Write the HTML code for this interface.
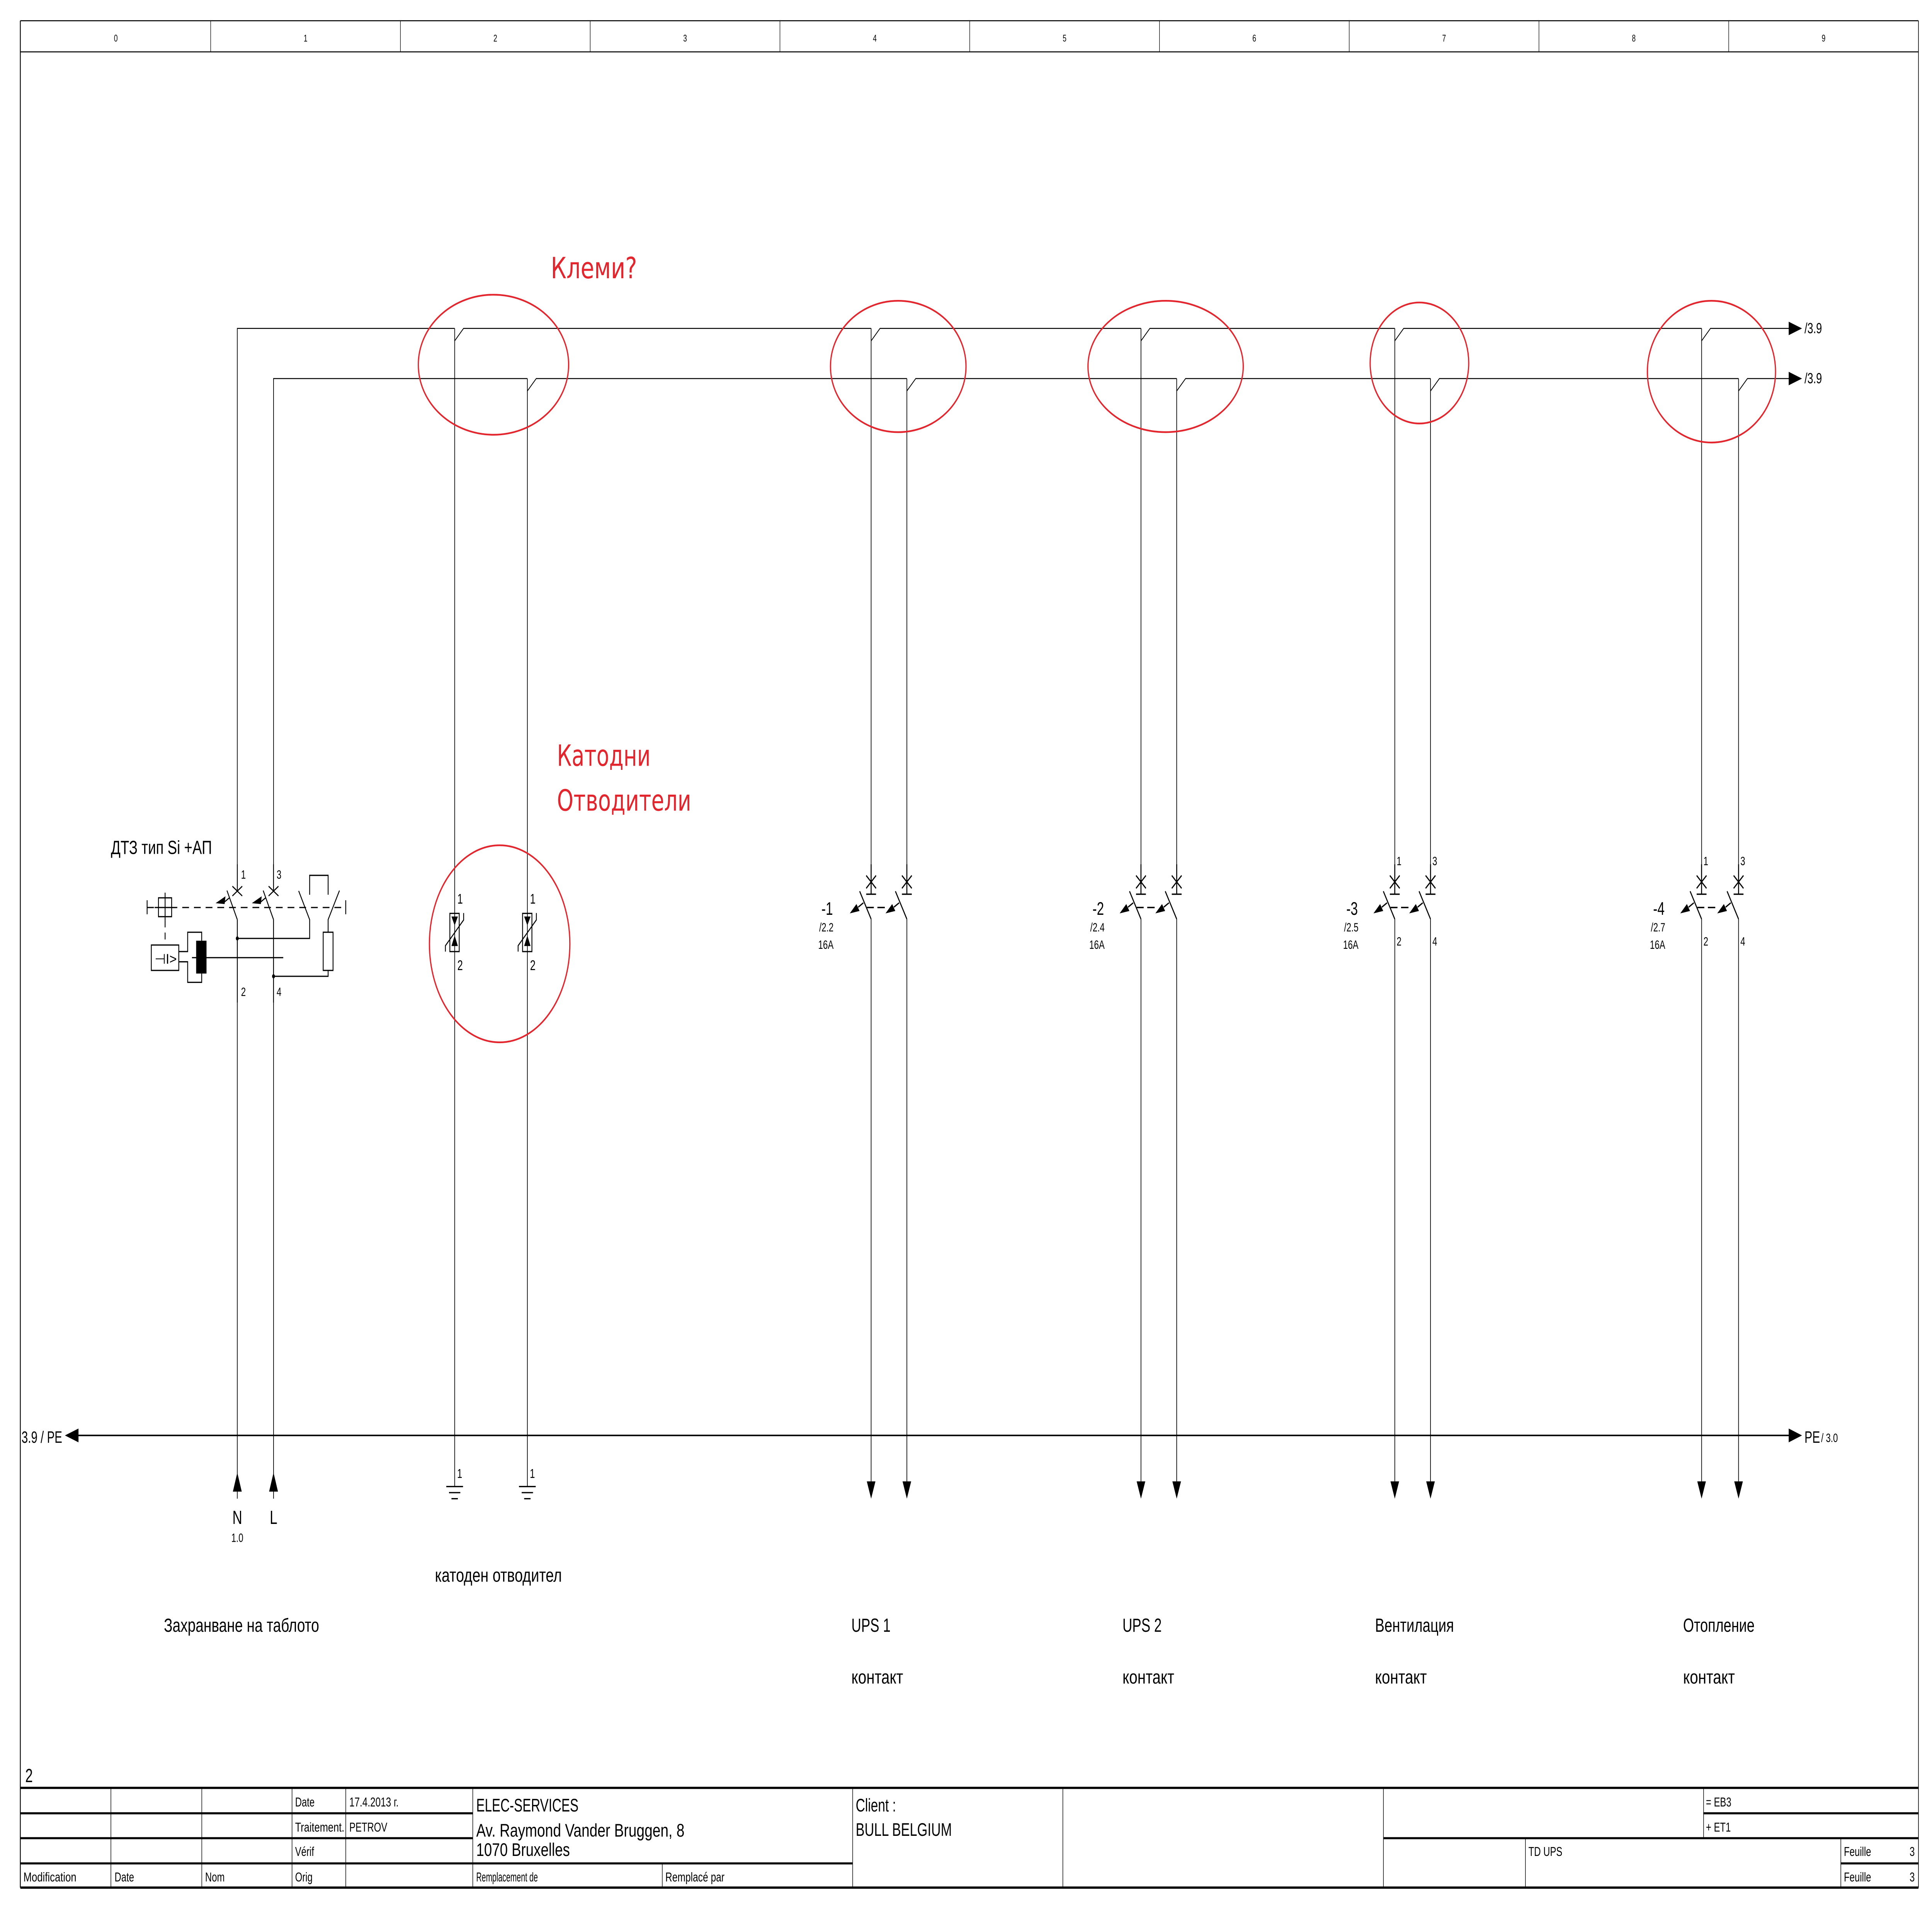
<!DOCTYPE html>
<html><head><meta charset="utf-8"><style>
html,body{margin:0;padding:0;background:#fff;overflow:hidden;width:100vw;height:100vh;}
svg{display:block;width:100vw;height:100vh;}
text{font-family:"Liberation Sans","DejaVu Sans",sans-serif;fill:#000;}
.r{fill:#e3262e;font-family:"DejaVu Sans","Liberation Sans",sans-serif;}
</style></head><body>
<svg xmlns="http://www.w3.org/2000/svg" xmlns:xlink="http://www.w3.org/1999/xlink" viewBox="0 0 1568 1109" preserveAspectRatio="none">
<defs>
<g id="pole" stroke="#000" stroke-width="0.8" fill="none">
 <line x1="-4" y1="506.5" x2="4" y2="513.9"/><line x1="-4" y1="513.9" x2="4" y2="506.5"/>
 <line x1="0" y1="500" x2="0" y2="517.3"/>
 <line x1="-4" y1="517.3" x2="4" y2="517.3"/>
 <line x1="-9.3" y1="515.6" x2="0" y2="531.7"/>
 <line x1="-6.3" y1="522.3" x2="-10.5" y2="524.8"/>
 <polygon points="-17.3,528.4 -11.9,523 -9.4,527" fill="#000" stroke="none"/>
</g>
<g id="gnd" stroke="#000" stroke-width="0.75">
 <line x1="-6.8" y1="860" x2="6.8" y2="860"/><line x1="-4.6" y1="863.5" x2="4.6" y2="863.5"/><line x1="-2.6" y1="867" x2="2.6" y2="867"/>
</g>
<g id="darr"><polygon points="-3.5,857 3.5,857 0,867" fill="#000"/></g>
<g id="sa" stroke="#000" stroke-width="0.7" fill="none">
 <rect x="-3.9" y="528.4" width="7.6" height="22.1"/>
 <polygon points="-2.6,530.2 2.6,530.2 0,535.4" fill="#000" stroke="none"/>
 <polygon points="-2.6,547.3 2.6,547.3 0,541.2" fill="#000" stroke="none"/>
 <polyline points="-7.5,550.5 -7.5,547.1 7.3,532.2 7.3,528.2"/>
</g>
</defs>

<!-- frame -->
<g stroke="#000" fill="none">
 <line x1="16.5" y1="12" x2="16.5" y2="1092" stroke-width="0.7"/>
 <line x1="1557" y1="12" x2="1557" y2="1092" stroke-width="0.5"/>
 <line x1="16.5" y1="12" x2="1557" y2="12" stroke-width="0.6"/>
 <line x1="16.5" y1="30" x2="1557" y2="30" stroke-width="0.6"/>
 <g stroke-width="0.4">
 <line x1="171" y1="12" x2="171" y2="30"/><line x1="325" y1="12" x2="325" y2="30"/><line x1="479" y1="12" x2="479" y2="30"/><line x1="633" y1="12" x2="633" y2="30"/><line x1="787" y1="12" x2="787" y2="30"/><line x1="941" y1="12" x2="941" y2="30"/><line x1="1095" y1="12" x2="1095" y2="30"/><line x1="1249" y1="12" x2="1249" y2="30"/><line x1="1403" y1="12" x2="1403" y2="30"/>
 </g>
</g>
<g font-size="5.5" text-anchor="middle">
 <text x="94" y="24">0</text><text x="248" y="24">1</text><text x="402" y="24">2</text><text x="556" y="24">3</text><text x="710" y="24">4</text><text x="864" y="24">5</text><text x="1018" y="24">6</text><text x="1172" y="24">7</text><text x="1326" y="24">8</text><text x="1480" y="24">9</text>
</g>

<!-- buses -->
<g stroke="#000" stroke-width="0.55" fill="none">
 <polyline points="192.6,867 192.6,190 369,190"/>
 <polyline points="222,867 222,219 428,219"/>
 <polyline points="369,197.2 376.2,190 707,190"/>
 <polyline points="707,197.2 714.2,190 926,190"/>
 <polyline points="926,197.2 933.2,190 1132,190"/>
 <polyline points="1132,197.2 1139.2,190 1381,190"/>
 <polyline points="1381,197.2 1388.2,190 1452,190"/>
 <polyline points="428,226.2 435.2,219 736,219"/>
 <polyline points="736,226.2 743.2,219 955,219"/>
 <polyline points="955,226.2 962.2,219 1161,219"/>
 <polyline points="1161,226.2 1168.2,219 1411,219"/>
 <polyline points="1411,226.2 1418.2,219 1452,219"/>
 <line x1="369" y1="190" x2="369" y2="860"/>
 <line x1="428" y1="219" x2="428" y2="860"/>
 <line x1="707" y1="190" x2="707" y2="517"/><line x1="707" y1="531.7" x2="707" y2="858"/>
 <line x1="736" y1="219" x2="736" y2="517"/><line x1="736" y1="531.7" x2="736" y2="858"/>
 <line x1="926" y1="190" x2="926" y2="517"/><line x1="926" y1="531.7" x2="926" y2="858"/>
 <line x1="955" y1="219" x2="955" y2="517"/><line x1="955" y1="531.7" x2="955" y2="858"/>
 <line x1="1132" y1="190" x2="1132" y2="517"/><line x1="1132" y1="531.7" x2="1132" y2="858"/>
 <line x1="1161" y1="219" x2="1161" y2="517"/><line x1="1161" y1="531.7" x2="1161" y2="858"/>
 <line x1="1381" y1="190" x2="1381" y2="517"/><line x1="1381" y1="531.7" x2="1381" y2="858"/>
 <line x1="1411" y1="219" x2="1411" y2="517"/><line x1="1411" y1="531.7" x2="1411" y2="858"/>
</g>
<polygon points="1451.7,186.1 1462.5,190 1451.7,193.9" fill="#000"/>
<polygon points="1451.7,215.1 1462.5,219 1451.7,222.9" fill="#000"/>
<text x="1464.5" y="192.7" font-size="8.5">/3.9</text>
<text x="1464.5" y="221.7" font-size="8.5">/3.9</text>

<!-- PE line -->
<line x1="63" y1="830.4" x2="1452" y2="830.4" stroke="#000" stroke-width="0.9"/>
<polygon points="52.7,830.4 63.7,826.4 63.7,834.4" fill="#000"/>
<polygon points="1462.5,830.4 1451.7,826.4 1451.7,834.4" fill="#000"/>
<text x="17.5" y="834.7" font-size="9.5" textLength="33" lengthAdjust="spacingAndGlyphs">3.9 / PE</text>
<text x="1464.5" y="834.7" font-size="9.5">PE</text><text x="1478" y="834.2" font-size="7">/ 3.0</text>

<!-- N / L up arrows -->
<polygon points="192.6,851.9 189,862.9 196.2,862.9" fill="#000"/>
<polygon points="222,851.9 218.4,862.9 225.6,862.9" fill="#000"/>
<text x="192.6" y="881.6" font-size="11" text-anchor="middle">N</text>
<text x="222" y="881.6" font-size="11" text-anchor="middle">L</text>
<text x="192.6" y="892" font-size="7" text-anchor="middle">1.0</text>

<use xlink:href="#gnd" x="369"/><use xlink:href="#gnd" x="428"/>
<text x="371" y="855" font-size="7.5">1</text><text x="430" y="855" font-size="7.5">1</text>

<use xlink:href="#darr" x="707"/><use xlink:href="#darr" x="736"/>
<use xlink:href="#darr" x="926"/><use xlink:href="#darr" x="955"/>
<use xlink:href="#darr" x="1132"/><use xlink:href="#darr" x="1161"/>
<use xlink:href="#darr" x="1381"/><use xlink:href="#darr" x="1411"/>

<g>
 <use xlink:href="#pole" x="707"/><use xlink:href="#pole" x="736"/>
 <use xlink:href="#pole" x="926"/><use xlink:href="#pole" x="955"/>
 <use xlink:href="#pole" x="1132"/><use xlink:href="#pole" x="1161"/>
 <use xlink:href="#pole" x="1381"/><use xlink:href="#pole" x="1411"/>
</g>
<g stroke="#000" stroke-width="0.8">
 <line x1="703.6" y1="525" x2="709.2" y2="525"/><line x1="712.1" y1="525" x2="718.1" y2="525"/>
 <line x1="922.6" y1="525" x2="928.2" y2="525"/><line x1="931.1" y1="525" x2="937.1" y2="525"/>
 <line x1="1128.6" y1="525" x2="1134.2" y2="525"/><line x1="1137.1" y1="525" x2="1143.1" y2="525"/>
 <line x1="1377.6" y1="525" x2="1383.2" y2="525"/><line x1="1386.1" y1="525" x2="1392.1" y2="525"/>
</g>
<g font-size="10.5" text-anchor="end">
 <text x="676" y="529.2">-1</text><text x="896" y="529.2">-2</text><text x="1102" y="529.2">-3</text><text x="1351" y="529.2">-4</text>
</g>
<g font-size="7" text-anchor="end">
 <text x="676.5" y="538.8">/2.2</text><text x="676.5" y="548.9">16A</text>
 <text x="896.5" y="538.8">/2.4</text><text x="896.5" y="548.9">16A</text>
 <text x="1102.5" y="538.8">/2.5</text><text x="1102.5" y="548.9">16A</text>
 <text x="1351.5" y="538.8">/2.7</text><text x="1351.5" y="548.9">16A</text>
</g>
<g font-size="7">
 <text x="1133.5" y="500.5">1</text><text x="1162.5" y="500.5">3</text><text x="1133.5" y="547">2</text><text x="1162.5" y="547">4</text>
 <text x="1382.5" y="500.5">1</text><text x="1412.5" y="500.5">3</text><text x="1382.5" y="547">2</text><text x="1412.5" y="547">4</text>
</g>

<rect x="364" y="527" width="10" height="25" fill="#fff"/>
<rect x="423" y="527" width="10" height="25" fill="#fff"/>
<use xlink:href="#sa" x="369"/><use xlink:href="#sa" x="428"/>
<line x1="369" y1="527" x2="369" y2="552" stroke="#000" stroke-width="0.55"/>
<line x1="428" y1="527" x2="428" y2="552" stroke="#000" stroke-width="0.55"/>
<g font-size="8"><text x="371.2" y="522.8">1</text><text x="371.2" y="561.2">2</text><text x="430.2" y="522.8">1</text><text x="430.2" y="561.2">2</text></g>

<!-- DTZ -->
<rect x="188" y="513" width="39" height="19" fill="#fff"/>
<g stroke="#000" stroke-width="0.7" fill="none">
 <line x1="192.6" y1="500" x2="192.6" y2="515.5"/><line x1="222" y1="500" x2="222" y2="515.5"/>
 <line x1="192.6" y1="532" x2="192.6" y2="580"/><line x1="222" y1="532" x2="222" y2="580"/>
 <line x1="188.6" y1="512.7" x2="196.6" y2="518.3"/><line x1="188.6" y1="518.3" x2="196.6" y2="512.7"/>
 <line x1="218" y1="512.7" x2="226" y2="518.3"/><line x1="218" y1="518.3" x2="226" y2="512.7"/>
 <line x1="184.2" y1="515.2" x2="192.6" y2="532"/>
 <line x1="213.6" y1="515.2" x2="222" y2="532"/>
 <line x1="186" y1="519.5" x2="181" y2="522.5"/><line x1="215.4" y1="519.5" x2="210.4" y2="522.5"/>
 <line x1="119.4" y1="525" x2="280.6" y2="525" stroke-dasharray="5.5,4"/>
 <line x1="119.4" y1="520.8" x2="119.4" y2="528.9"/><line x1="280.6" y1="520.8" x2="280.6" y2="528.9"/>
 <rect x="128.6" y="519.4" width="10.7" height="10.9" fill="#fff"/>
 <line x1="125.5" y1="525" x2="142.5" y2="525"/><line x1="134" y1="516.4" x2="134" y2="532.5"/>
 <line x1="134" y1="532.5" x2="134" y2="546.7" stroke-dasharray="4,3"/>
 <rect x="122.8" y="546.7" width="22.3" height="14.7"/>
 <polyline points="145.1,550.5 152.3,550.5 152.3,539.3 163.7,539.3 163.7,544.2"/>
 <polyline points="145.1,556.4 152.3,556.4 152.3,568.3 163.7,568.3 163.7,563.2"/>
 <line x1="155.8" y1="554" x2="229.9" y2="554"/>
 <polyline points="192.6,542.9 251.3,542.9 251.3,532 242.4,515.4"/>
 <polyline points="251.3,517.6 251.3,506.4 266.3,506.4 266.3,517.6"/>
 <polyline points="275.5,515.2 266.3,532 266.3,539.3"/>
 <rect x="262.3" y="539.3" width="8" height="22.1"/>
 <polyline points="266.3,561.4 266.3,564.8 222,564.8"/>
</g>
<polygon points="175,522.5 183,518.5 182.3,523" fill="#000"/>
<polygon points="204.4,522.5 212.4,518.5 211.7,523" fill="#000"/>
<rect x="159.2" y="544.2" width="8.4" height="19" fill="#000"/>
<circle cx="192.6" cy="542.9" r="1.2" fill="#000"/>
<circle cx="222" cy="564.8" r="1.2" fill="#000"/>
<text x="125.5" y="557.5" font-size="8" textLength="18" lengthAdjust="spacingAndGlyphs">⊣I&gt;</text>
<g font-size="7"><text x="195.6" y="508.3">1</text><text x="224.5" y="508.3">3</text><text x="195.6" y="576.2">2</text><text x="224.5" y="576.2">4</text></g>
<text x="90" y="494" font-size="11" textLength="82" lengthAdjust="spacingAndGlyphs">ДТЗ тип Si +АП</text>

<g fill="none" stroke="#e3262e" stroke-width="1">
 <ellipse cx="400.5" cy="211" rx="61" ry="40.5"/>
 <ellipse cx="729" cy="212" rx="55" ry="38"/>
 <ellipse cx="946" cy="212" rx="63" ry="38"/>
 <ellipse cx="1152" cy="210" rx="40" ry="35"/>
 <ellipse cx="1389" cy="215" rx="52" ry="41"/>
 <ellipse cx="405.5" cy="546" rx="57" ry="57"/>
</g>
<text class="r" x="447" y="161" font-size="17" textLength="70" lengthAdjust="spacingAndGlyphs">Клеми?</text>
<text class="r" x="452" y="443" font-size="17" textLength="76" lengthAdjust="spacingAndGlyphs">Катодни</text>
<text class="r" x="452" y="469" font-size="17" textLength="109" lengthAdjust="spacingAndGlyphs">Отводители</text>

<g font-size="11">
 <text x="353" y="915" textLength="103" lengthAdjust="spacingAndGlyphs">катоден отводител</text>
 <text x="133" y="944" textLength="126" lengthAdjust="spacingAndGlyphs">Захранване на таблото</text>
 <text x="691" y="944">UPS 1</text><text x="691" y="974" textLength="42" lengthAdjust="spacingAndGlyphs">контакт</text>
 <text x="911" y="944">UPS 2</text><text x="911" y="974" textLength="42" lengthAdjust="spacingAndGlyphs">контакт</text>
 <text x="1116" y="944" textLength="64" lengthAdjust="spacingAndGlyphs">Вентилация</text><text x="1116" y="974" textLength="42" lengthAdjust="spacingAndGlyphs">контакт</text>
 <text x="1366" y="944" textLength="58" lengthAdjust="spacingAndGlyphs">Отопление</text><text x="1366" y="974" textLength="42" lengthAdjust="spacingAndGlyphs">контакт</text>
</g>

<text x="20.5" y="1031" font-size="11">2</text>
<g stroke="#000" fill="none">
 <line x1="16.5" y1="1034.3" x2="1557" y2="1034.3" stroke-width="1.3"/>
 <line x1="16.5" y1="1092" x2="1557" y2="1092" stroke-width="1.3"/>
 <line x1="16.5" y1="1049" x2="383.7" y2="1049" stroke-width="1.2"/>
 <line x1="16.5" y1="1063.4" x2="383.7" y2="1063.4" stroke-width="1.2"/>
 <line x1="16.5" y1="1078" x2="692" y2="1078" stroke-width="1.2"/>
 <line x1="1382.6" y1="1049" x2="1557" y2="1049" stroke-width="1.2"/>
 <line x1="1122.8" y1="1063.4" x2="1557" y2="1063.4" stroke-width="1.2"/>
 <line x1="1494" y1="1078" x2="1557" y2="1078" stroke-width="1.2"/>
 <g stroke-width="0.45">
  <line x1="90" y1="1034.3" x2="90" y2="1092"/><line x1="163.8" y1="1034.3" x2="163.8" y2="1092"/>
  <line x1="237" y1="1034.3" x2="237" y2="1092"/><line x1="280.6" y1="1034.3" x2="280.6" y2="1092"/>
  <line x1="383.7" y1="1034.3" x2="383.7" y2="1092"/><line x1="537.5" y1="1078" x2="537.5" y2="1092"/>
  <line x1="692" y1="1034.3" x2="692" y2="1092"/><line x1="862.6" y1="1034.3" x2="862.6" y2="1092"/>
  <line x1="1122.8" y1="1034.3" x2="1122.8" y2="1092"/><line x1="1382.6" y1="1034.3" x2="1382.6" y2="1063.4"/>
  <line x1="1238" y1="1063.4" x2="1238" y2="1092"/><line x1="1494" y1="1063.4" x2="1494" y2="1092"/>
 </g>
</g>
<g font-size="7.5">
 <text x="19" y="1088.4" textLength="43" lengthAdjust="spacingAndGlyphs">Modification</text>
 <text x="93" y="1088.4">Date</text><text x="166.5" y="1088.4">Nom</text><text x="239.5" y="1088.4">Orig</text>
 <text x="239.5" y="1045">Date</text><text x="239.5" y="1059.6" textLength="40" lengthAdjust="spacingAndGlyphs">Traitement.</text><text x="239.5" y="1073.7">Vérif</text>
 <text x="283.5" y="1045" textLength="40" lengthAdjust="spacingAndGlyphs">17.4.2013 г.</text><text x="283.5" y="1059.6">PETROV</text>
 <text x="386.5" y="1088.4" textLength="50" lengthAdjust="spacingAndGlyphs">Remplacement de</text>
 <text x="540" y="1088.4" textLength="48" lengthAdjust="spacingAndGlyphs">Remplacé par</text>
 <text x="1384.5" y="1045">= EB3</text><text x="1384.5" y="1059.6">+ ET1</text>
 <text x="1240.5" y="1073.7">TD UPS</text>
 <text x="1496.5" y="1073.7">Feuille</text><text x="1496.5" y="1088.4">Feuille</text>
 <text x="1554" y="1073.7" text-anchor="end">3</text><text x="1554" y="1088.4" text-anchor="end">3</text>
</g>
<g font-size="10.5">
 <text x="386.5" y="1048" textLength="83" lengthAdjust="spacingAndGlyphs">ELEC-SERVICES</text>
 <text x="386.5" y="1062.5" textLength="169" lengthAdjust="spacingAndGlyphs">Av. Raymond Vander Bruggen, 8</text>
 <text x="386.5" y="1073.7" textLength="76" lengthAdjust="spacingAndGlyphs">1070 Bruxelles</text>
 <text x="694.5" y="1048">Client :</text>
 <text x="694.5" y="1062" textLength="78" lengthAdjust="spacingAndGlyphs">BULL BELGIUM</text>
</g>
</svg>
</body></html>
